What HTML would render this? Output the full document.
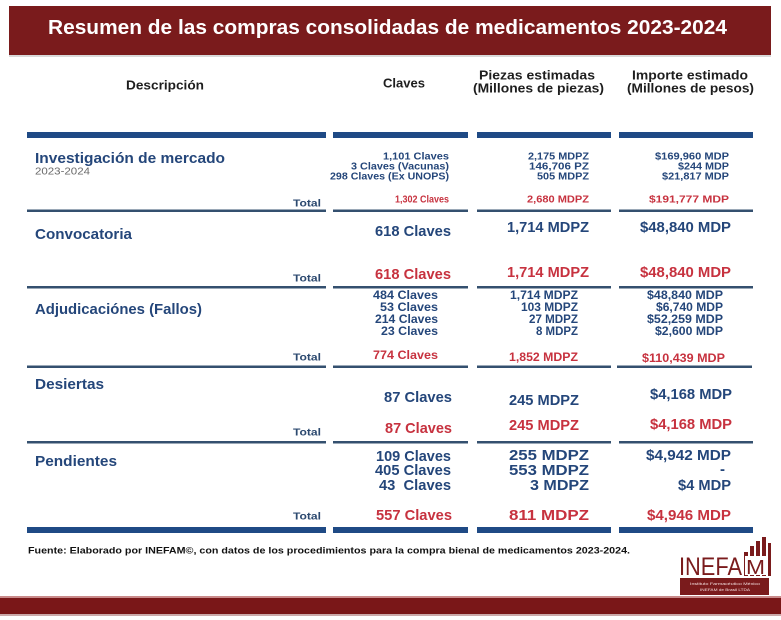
<!DOCTYPE html>
<html><head><meta charset="utf-8"><style>
html,body{margin:0;padding:0;background:#fff;}
svg{display:block;}
text{font-family:"Liberation Sans",sans-serif;font-weight:bold;}
.b{fill:#24467a;}
.r{fill:#c7323f;}
.t{fill:#2d4a70;}
.h{fill:#1e1e1e;}
</style></head><body>
<svg width="781" height="620" viewBox="0 0 781 620" xmlns="http://www.w3.org/2000/svg">
<rect width="781" height="620" fill="#fff"/>
<!-- header -->
<rect x="9" y="55" width="762" height="2" fill="#d9d9d9"/>
<rect x="9" y="6" width="762" height="49" fill="#7a1b1c"/>
<text x="48" y="34" font-size="20" fill="#fff" textLength="679" lengthAdjust="spacingAndGlyphs">Resumen de las compras consolidadas de medicamentos  2023-2024</text>

<!-- column headers -->
<text class="h" x="126" y="89.5" font-size="13" textLength="78" lengthAdjust="spacingAndGlyphs">Descripción</text>
<text class="h" x="383" y="87.5" font-size="13" textLength="42" lengthAdjust="spacingAndGlyphs">Claves</text>
<text class="h" x="479" y="79.5" font-size="13" textLength="116" lengthAdjust="spacingAndGlyphs">Piezas estimadas</text>
<text class="h" x="473" y="92.5" font-size="13" textLength="131" lengthAdjust="spacingAndGlyphs">(Millones de piezas)</text>
<text class="h" x="632" y="79.5" font-size="13" textLength="116" lengthAdjust="spacingAndGlyphs">Importe estimado</text>
<text class="h" x="627" y="92.5" font-size="13" textLength="127" lengthAdjust="spacingAndGlyphs">(Millones de pesos)</text>

<!-- top thick bar -->
<g fill="#1f4a85">
<rect x="27" y="132" width="299" height="6"/><rect x="333" y="132" width="135" height="6"/><rect x="477" y="132" width="134" height="6"/><rect x="619" y="132" width="134" height="6"/>
</g>

<!-- Investigación -->
<text class="b" x="35" y="163" font-size="15" textLength="190" lengthAdjust="spacingAndGlyphs">Investigación de mercado</text>
<text x="35" y="174.5" font-size="10" fill="#6a6a6a" style="font-weight:normal" textLength="55" lengthAdjust="spacingAndGlyphs">2023-2024</text>
<text class="b" x="383" y="159.5" font-size="10" textLength="66" lengthAdjust="spacingAndGlyphs">1,101 Claves</text>
<text class="b" x="351" y="169.5" font-size="10" textLength="98" lengthAdjust="spacingAndGlyphs">3 Claves (Vacunas)</text>
<text class="b" x="330" y="179.5" font-size="10" textLength="119" lengthAdjust="spacingAndGlyphs">298 Claves (Ex UNOPS)</text>
<text class="b" x="528" y="159.5" font-size="10" textLength="61" lengthAdjust="spacingAndGlyphs">2,175 MDPZ</text>
<text class="b" x="529" y="169.5" font-size="10" textLength="60" lengthAdjust="spacingAndGlyphs">146,706 PZ</text>
<text class="b" x="537" y="179.5" font-size="10" textLength="52" lengthAdjust="spacingAndGlyphs">505 MDPZ</text>
<text class="b" x="655" y="159.5" font-size="10" textLength="74" lengthAdjust="spacingAndGlyphs">$169,960 MDP</text>
<text class="b" x="678" y="169.5" font-size="10" textLength="51" lengthAdjust="spacingAndGlyphs">$244 MDP</text>
<text class="b" x="662" y="179.5" font-size="10" textLength="67" lengthAdjust="spacingAndGlyphs">$21,817 MDP</text>
<text class="t" x="293" y="206.5" font-size="10" textLength="28" lengthAdjust="spacingAndGlyphs">Total</text>
<text class="r" x="395" y="202.5" font-size="10" textLength="54" lengthAdjust="spacingAndGlyphs">1,302 Claves</text>
<text class="r" x="527" y="202.5" font-size="10" textLength="62" lengthAdjust="spacingAndGlyphs">2,680 MDPZ</text>
<text class="r" x="649" y="202.5" font-size="10" textLength="80" lengthAdjust="spacingAndGlyphs">$191,777 MDP</text>
<g fill="#34506f">
<rect x="27" y="209.5" width="299" height="2.5"/><rect x="333" y="209.5" width="135" height="2.5"/><rect x="477" y="209.5" width="134" height="2.5"/><rect x="619" y="209.5" width="134" height="2.5"/>
</g>

<!-- Convocatoria -->
<text class="b" x="35" y="239" font-size="15" textLength="97" lengthAdjust="spacingAndGlyphs">Convocatoria</text>
<text class="b" x="375" y="236" font-size="15" textLength="76" lengthAdjust="spacingAndGlyphs">618 Claves</text>
<text class="b" x="507" y="232" font-size="15" textLength="82" lengthAdjust="spacingAndGlyphs">1,714 MDPZ</text>
<text class="b" x="640" y="232" font-size="15" textLength="91" lengthAdjust="spacingAndGlyphs">$48,840 MDP</text>
<text class="t" x="293" y="281.5" font-size="10" textLength="28" lengthAdjust="spacingAndGlyphs">Total</text>
<text class="r" x="375" y="279" font-size="15" textLength="76" lengthAdjust="spacingAndGlyphs">618 Claves</text>
<text class="r" x="507" y="277" font-size="15" textLength="82" lengthAdjust="spacingAndGlyphs">1,714 MDPZ</text>
<text class="r" x="640" y="277" font-size="15" textLength="91" lengthAdjust="spacingAndGlyphs">$48,840 MDP</text>
<g fill="#34506f">
<rect x="27" y="286" width="299" height="2.5"/><rect x="333" y="286" width="135" height="2.5"/><rect x="477" y="286" width="134" height="2.5"/><rect x="619" y="286" width="134" height="2.5"/>
</g>

<!-- Adjudicaciones -->
<text class="b" x="35" y="314" font-size="15" textLength="167" lengthAdjust="spacingAndGlyphs">Adjudicaciónes (Fallos)</text>
<text class="b" x="373" y="299" font-size="12" textLength="65" lengthAdjust="spacingAndGlyphs">484 Claves</text>
<text class="b" x="380" y="311" font-size="12" textLength="58" lengthAdjust="spacingAndGlyphs">53 Claves</text>
<text class="b" x="375" y="323" font-size="12" textLength="63" lengthAdjust="spacingAndGlyphs">214 Claves</text>
<text class="b" x="381" y="335" font-size="12" textLength="57" lengthAdjust="spacingAndGlyphs">23 Claves</text>
<text class="b" x="510" y="299" font-size="12" textLength="68" lengthAdjust="spacingAndGlyphs">1,714 MDPZ</text>
<text class="b" x="521" y="311" font-size="12" textLength="57" lengthAdjust="spacingAndGlyphs">103 MDPZ</text>
<text class="b" x="529" y="323" font-size="12" textLength="49" lengthAdjust="spacingAndGlyphs">27 MDPZ</text>
<text class="b" x="536" y="335" font-size="12" textLength="42" lengthAdjust="spacingAndGlyphs">8 MDPZ</text>
<text class="b" x="647" y="299" font-size="12" textLength="76" lengthAdjust="spacingAndGlyphs">$48,840 MDP</text>
<text class="b" x="656" y="311" font-size="12" textLength="67" lengthAdjust="spacingAndGlyphs">$6,740 MDP</text>
<text class="b" x="647" y="323" font-size="12" textLength="76" lengthAdjust="spacingAndGlyphs">$52,259 MDP</text>
<text class="b" x="655" y="335" font-size="12" textLength="68" lengthAdjust="spacingAndGlyphs">$2,600 MDP</text>
<text class="t" x="293" y="360.5" font-size="10" textLength="28" lengthAdjust="spacingAndGlyphs">Total</text>
<text class="r" x="373" y="359" font-size="11.5" textLength="65" lengthAdjust="spacingAndGlyphs">774 Claves</text>
<text class="r" x="509" y="361" font-size="11.5" textLength="69" lengthAdjust="spacingAndGlyphs">1,852 MDPZ</text>
<text class="r" x="642" y="362" font-size="11.5" textLength="83" lengthAdjust="spacingAndGlyphs">$110,439 MDP</text>
<g fill="#34506f">
<rect x="27" y="365.5" width="299" height="2.5"/><rect x="333" y="365.5" width="135" height="2.5"/><rect x="477" y="365.5" width="134" height="2.5"/><rect x="617" y="365.5" width="135" height="2.5"/>
</g>

<!-- Desiertas -->
<text class="b" x="35" y="389" font-size="15" textLength="69" lengthAdjust="spacingAndGlyphs">Desiertas</text>
<text class="b" x="384" y="402" font-size="15" textLength="68" lengthAdjust="spacingAndGlyphs">87 Claves</text>
<text class="b" x="509" y="405" font-size="15" textLength="70" lengthAdjust="spacingAndGlyphs">245 MDPZ</text>
<text class="b" x="650" y="399" font-size="15" textLength="82" lengthAdjust="spacingAndGlyphs">$4,168 MDP</text>
<text class="t" x="293" y="435.5" font-size="10" textLength="28" lengthAdjust="spacingAndGlyphs">Total</text>
<text class="r" x="385" y="433" font-size="15" textLength="67" lengthAdjust="spacingAndGlyphs">87 Claves</text>
<text class="r" x="509" y="430" font-size="15" textLength="70" lengthAdjust="spacingAndGlyphs">245 MDPZ</text>
<text class="r" x="650" y="429" font-size="15" textLength="82" lengthAdjust="spacingAndGlyphs">$4,168 MDP</text>
<g fill="#34506f">
<rect x="27" y="441" width="299" height="2.5"/><rect x="333" y="441" width="135" height="2.5"/><rect x="477" y="441" width="134" height="2.5"/><rect x="619" y="441" width="134" height="2.5"/>
</g>

<!-- Pendientes -->
<text class="b" x="35" y="466" font-size="15" textLength="82" lengthAdjust="spacingAndGlyphs">Pendientes</text>
<text class="b" x="376" y="461" font-size="15" textLength="75" lengthAdjust="spacingAndGlyphs">109 Claves</text>
<text class="b" x="375" y="475" font-size="15" textLength="76" lengthAdjust="spacingAndGlyphs">405 Claves</text>
<text class="b" x="379" y="490" font-size="15" textLength="72" lengthAdjust="spacingAndGlyphs" xml:space="preserve">43  Claves</text>
<text class="b" x="509" y="460" font-size="15" textLength="80" lengthAdjust="spacingAndGlyphs">255 MDPZ</text>
<text class="b" x="509" y="475" font-size="15" textLength="80" lengthAdjust="spacingAndGlyphs">553 MDPZ</text>
<text class="b" x="530" y="490" font-size="15" textLength="59" lengthAdjust="spacingAndGlyphs">3 MDPZ</text>
<text class="b" x="646" y="460" font-size="15" textLength="85" lengthAdjust="spacingAndGlyphs">$4,942 MDP</text>
<text class="b" x="720" y="474" font-size="15">-</text>
<text class="b" x="678" y="490" font-size="15" textLength="53" lengthAdjust="spacingAndGlyphs">$4 MDP</text>
<text class="t" x="293" y="519.5" font-size="10" textLength="28" lengthAdjust="spacingAndGlyphs">Total</text>
<text class="r" x="376" y="520" font-size="15" textLength="76" lengthAdjust="spacingAndGlyphs">557 Claves</text>
<text class="r" x="509" y="520" font-size="15" textLength="80" lengthAdjust="spacingAndGlyphs">811 MDPZ</text>
<text class="r" x="647" y="520" font-size="15" textLength="84" lengthAdjust="spacingAndGlyphs">$4,946 MDP</text>

<!-- bottom thick bar -->
<g fill="#1f4a85">
<rect x="27" y="527" width="299" height="6"/><rect x="333" y="527" width="135" height="6"/><rect x="477" y="527" width="134" height="6"/><rect x="619" y="527" width="134" height="6"/>
</g>

<text x="28" y="553.5" font-size="9.5" fill="#111" textLength="602" lengthAdjust="spacingAndGlyphs">Fuente: Elaborado por INEFAM©,  con datos de los procedimientos para la compra bienal de medicamentos 2023-2024.</text>

<!-- logo -->
<g fill="#7a1b1c">
<text x="679" y="575" font-size="25" style="font-weight:normal" textLength="63" lengthAdjust="spacingAndGlyphs">INEFA</text>
<rect x="744" y="552" width="4" height="24"/>
<rect x="750" y="546" width="4" height="30"/>
<rect x="756" y="541" width="4" height="35"/>
<rect x="762" y="537" width="4" height="39"/>
<rect x="768" y="543" width="3" height="33"/>
<rect x="680" y="578" width="89" height="17"/>
</g>
<rect x="745" y="556" width="21" height="19" fill="#fff"/>
<text x="746" y="574" font-size="20" fill="#7a1b1c" style="font-weight:normal" textLength="19" lengthAdjust="spacingAndGlyphs">M</text>
<text x="690" y="585" font-size="4" fill="#f3dede" style="font-weight:normal" textLength="70" lengthAdjust="spacingAndGlyphs">Instituto Farmacéutico México</text>
<text x="700" y="591" font-size="4" fill="#f3dede" style="font-weight:normal" textLength="50" lengthAdjust="spacingAndGlyphs">INEFAM de Brasil LTDA</text>

<!-- bottom bar -->
<rect x="0" y="596" width="781" height="2" fill="#c98a8a"/>
<rect x="0" y="598" width="781" height="16" fill="#7a1718"/>
<rect x="0" y="614" width="781" height="2" fill="#caa"/>
</svg>
</body></html>
